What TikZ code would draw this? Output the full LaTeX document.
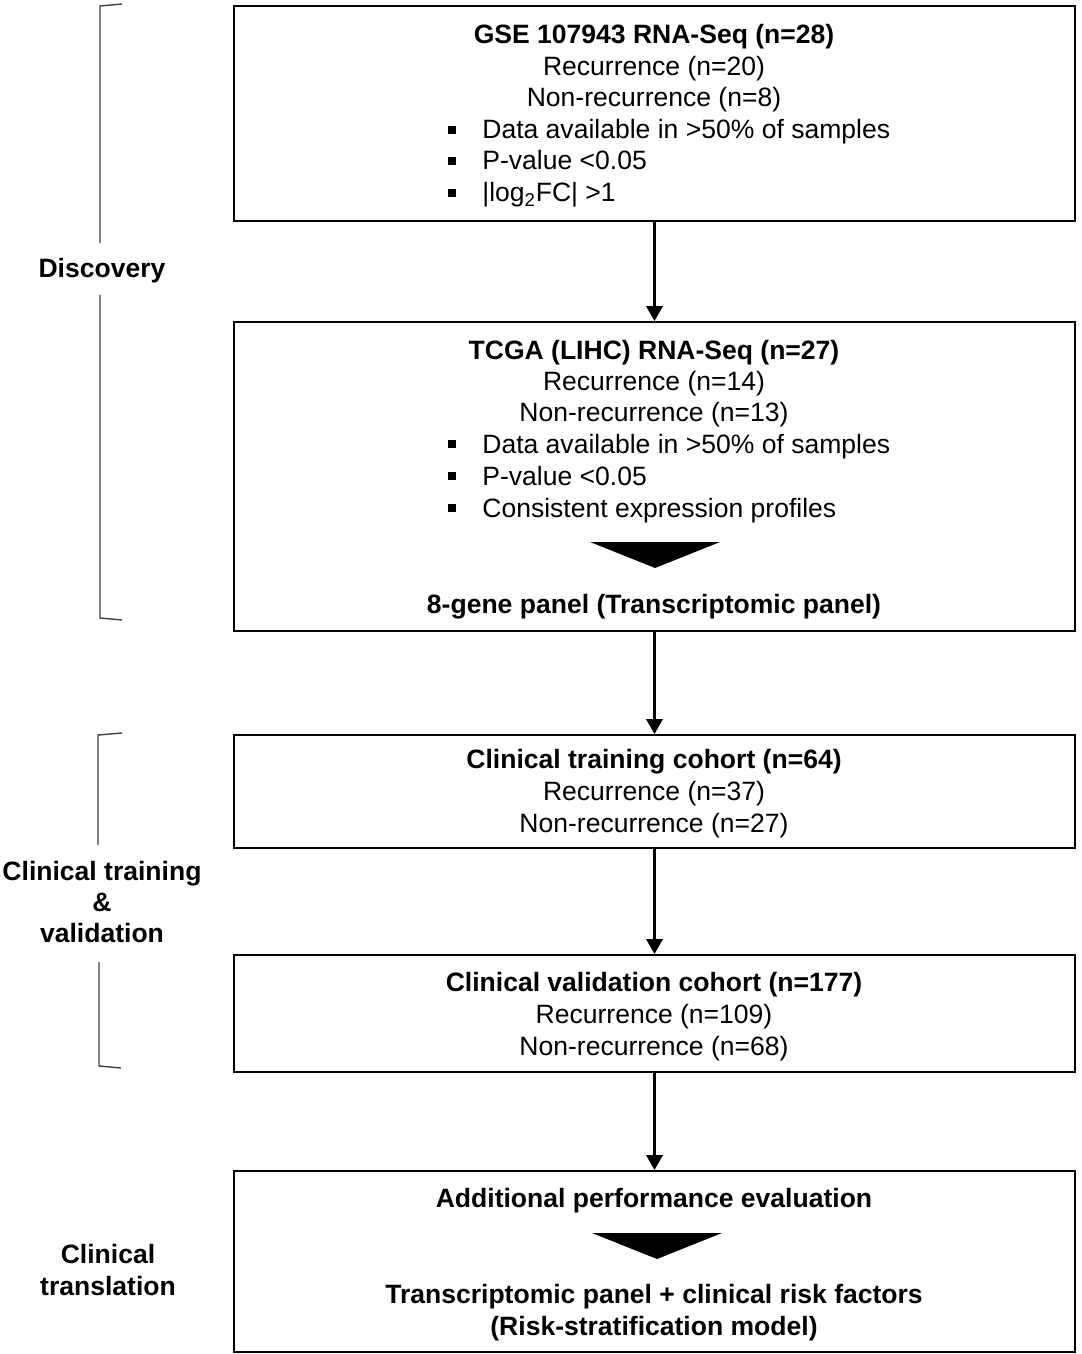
\documentclass[tikz,border=0pt]{standalone}
\usepackage{fontspec}
\setmainfont{Liberation Sans}
\usetikzlibrary{arrows.meta, calc}

\begin{document}
\begin{tikzpicture}[x=0.02cm, y=-0.02cm,
  every node/.style={font=\fontsize{15.1}{18.2}\selectfont},
  box/.style={draw, line width=1.15pt, minimum width=16.82cm, inner sep=0pt},
  txt/.style={anchor=base, inner sep=0pt},
  bline/.style={anchor=base west, inner sep=0pt},
  bul/.style={fill, rectangle, minimum size=0.15cm, inner sep=0pt},
  lbl/.style={font=\fontsize{15.1}{17.8}\selectfont\bfseries, align=center, inner sep=0pt},
  flow/.style={line width=1.3pt, -{Triangle[width=0.33cm,length=0.3cm]}},
  brk/.style={line width=0.8pt, black!75}]
\useasboundingbox (0,0) rectangle (1081,1354);

% boxes
\node[box, minimum height=4.3cm]  (gse)   at (654.5,113.5)  {};
\node[box, minimum height=6.18cm] (tcga)  at (654.5,476.5)  {};
\node[box, minimum height=2.26cm] (train) at (654.5,791.5)  {};
\node[box, minimum height=2.34cm] (valid) at (654.5,1013.5) {};
\node[box, minimum height=3.62cm] (eval)  at (654.5,1261.5) {};

% discovery set
\node[txt] (gse-t) at (654,44)  {\textbf{GSE 107943 RNA-Seq (n=28)}};
\node[txt] (gse-r) at (654,76)  {Recurrence (n=20)};
\node[txt] (gse-n) at (654,107) {Non-recurrence (n=8)};
\foreach \y/\t [count=\i] in {139/Data available in >50\% of samples, 170/P-value <0.05, 202/{|log\textsubscript{2}FC| >1}}{
  \node[bul] (gse-b\i) at (452,\y-9) {};
  \node[bline] (gse-l\i) at (482,\y) {\t};
}

\node[txt] (tcga-t) at (654,359) {\textbf{TCGA (LIHC) RNA-Seq (n=27)}};
\node[txt] (tcga-r) at (654,390) {Recurrence (n=14)};
\node[txt] (tcga-n) at (654,421) {Non-recurrence (n=13)};
\foreach \y/\t [count=\i] in {453/Data available in >50\% of samples, 485/P-value <0.05, 517/Consistent expression profiles}{
  \node[bul] (tcga-b\i) at (452,\y-9) {};
  \node[bline] (tcga-l\i) at (482,\y) {\t};
}
\fill (590,542) -- (720,542) -- (655,568) -- cycle;
\node[txt] (panel) at (654,613) {\textbf{8-gene panel (Transcriptomic panel)}};

% clinical cohorts
\node[txt] (train-t) at (654,768) {\textbf{Clinical training cohort (n=64)}};
\node[txt] (train-r) at (654,800) {Recurrence (n=37)};
\node[txt] (train-n) at (654,832) {Non-recurrence (n=27)};

\node[txt] (valid-t) at (654,991)  {\textbf{Clinical validation cohort (n=177)}};
\node[txt] (valid-r) at (654,1023) {Recurrence (n=109)};
\node[txt] (valid-n) at (654,1055) {Non-recurrence (n=68)};

% translation
\node[txt] (eval-t) at (654,1207) {\textbf{Additional performance evaluation}};
\fill (592,1233) -- (722,1233) -- (657,1259) -- cycle;
\node[txt] (eval-m) at (654,1303) {\textbf{Transcriptomic panel + clinical risk factors}};
\node[txt] (eval-s) at (654,1335) {\textbf{(Risk-stratification model)}};

% arrows
\draw[flow] (gse) -- (tcga);
\draw[flow] (tcga) -- (train);
\draw[flow] (train) -- (valid);
\draw[flow] (valid) -- (eval);

% stage labels and brackets
\node[lbl, anchor=base] (disc) at (102,278) {Discovery};
\node[lbl] (ctv) at (102,902) {Clinical training\\\&\\validation};
\node[lbl] (trans) at (108,1270) {Clinical\\translation};

\draw[brk] (122,4) -- (100,6) -- (100,243);
\draw[brk] (100,295) -- (100,618) -- (122,620);
\draw[brk] (122,733) -- (98,735) -- (98,845);
\draw[brk] (99,962) -- (99,1066) -- (121,1068);
\end{tikzpicture}
\end{document}
